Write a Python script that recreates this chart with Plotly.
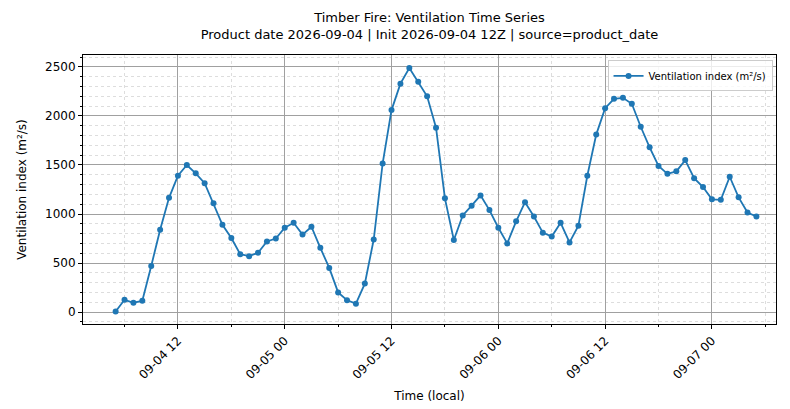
import pandas as pd
import plotly.graph_objects as go

start_time = "2026-09-04 05:00"
ventilation = [
    5, 125, 95, 115, 470, 840, 1165, 1390, 1500, 1415, 1315, 1110, 890, 755, 590, 570,
    605, 720, 750, 860, 910, 790, 870, 655, 450, 200, 120, 85, 290, 740, 1515, 2060,
    2330, 2490, 2350, 2200, 1880, 1160, 735, 985, 1085, 1190, 1040, 860, 700, 925,
    1120, 975, 810, 770, 910, 710, 880, 1390, 1810, 2080, 2175, 2185, 2125, 1890,
    1680, 1490, 1410, 1435, 1550, 1365, 1275, 1150, 1145, 1380, 1170, 1015, 975,
]
times = pd.date_range(start_time, periods=len(ventilation), freq="h")

fig = go.Figure()
fig.add_trace(go.Scatter(
    x=times, y=ventilation, mode="lines+markers",
    line=dict(color="#1f77b4", width=1.8),
    marker=dict(size=6, color="#1f77b4"),
    name="Ventilation index (m²/s)",
))

ax_common = dict(
    showline=True, linecolor="black", linewidth=1, mirror=True,
    ticks="outside", ticklen=4, tickcolor="black",
    showgrid=True, gridcolor="#a0a0a0", gridwidth=0.8,
    zeroline=False, tickfont=dict(size=12, color="black"),
    automargin=False,
)

fig.update_layout(
    width=790, height=409,
    paper_bgcolor="white", plot_bgcolor="white",
    font=dict(family="DejaVu Sans", size=12, color="black"),
    title=dict(
        text="Timber Fire: Ventilation Time Series<br>Product date 2026-09-04 | Init 2026-09-04 12Z | source=product_date",
        x=0.5, xanchor="center", xref="paper", y=0.965, yanchor="top", font=dict(size=13),
    ),
    margin=dict(l=75, r=22, t=47, b=93),
    showlegend=True,
    legend=dict(x=0.995, y=0.98, xanchor="right", yanchor="top",
                bordercolor="#cccccc", borderwidth=1, font=dict(size=10),
                bgcolor="rgba(255,255,255,0.8)"),
    xaxis=dict(
        **ax_common,
        title=dict(text="Time (local)", font=dict(size=12), standoff=10),
        range=["2026-09-04 01:20", "2026-09-07 07:12"],
        tick0="2026-09-04 00:00", dtick=12 * 3600 * 1000,
        tickformat="%m-%d %H", tickangle=-45,
        minor=dict(dtick=6 * 3600 * 1000, ticks="outside", ticklen=2,
                   showgrid=True, gridcolor="#dddddd", griddash="dot"),
    ),
    yaxis=dict(
        **ax_common,
        title=dict(text="Ventilation index (m²/s)", font=dict(size=12)),
        range=[-122, 2622], dtick=500,
        minor=dict(dtick=100, ticks="outside", ticklen=2,
                   showgrid=True, gridcolor="#dddddd", griddash="dot"),
    ),
)

fig.write_html("out.html")
